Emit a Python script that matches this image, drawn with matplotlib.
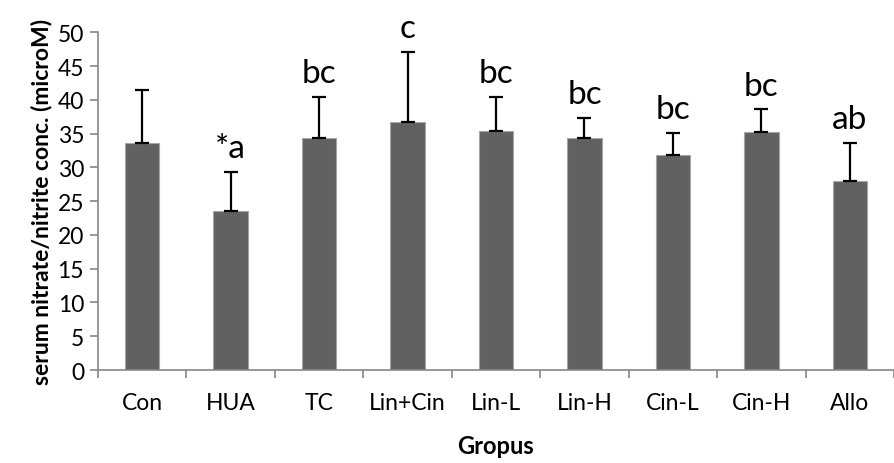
import matplotlib
matplotlib.use("Agg")
import matplotlib.pyplot as plt
import numpy as np

plt.rcParams['font.family'] = ['Lato', 'DejaVu Sans']

groups = ['Con', 'HUA', 'TC', 'Lin+Cin', 'Lin-L', 'Lin-H', 'Cin-L', 'Cin-H', 'Allo']
means = [33.6, 23.5, 34.3, 36.8, 35.4, 34.4, 31.8, 35.3, 28.0]
sds = [7.9, 5.8, 6.1, 10.3, 5.1, 2.9, 3.3, 3.3, 5.6]
letters = ['', '*a', 'bc', 'c', 'bc', 'bc', 'bc', 'bc', 'ab']

fig = plt.figure(figsize=(8.94, 4.64), dpi=100)
ax = fig.add_axes([0.1096, 0.2004, 0.8904, 0.7276])

x = np.arange(len(groups))
ax.bar(x, means, width=0.39, color='#616161', edgecolor='#a6a6a6', linewidth=0.8, zorder=2)
ax.errorbar(x, means, yerr=[np.zeros(len(sds)), sds], fmt='none', ecolor='black',
            elinewidth=1.6, capsize=5, capthick=1.6, zorder=3)

for xi, m, s, lab in zip(x, means, sds, letters):
    if lab:
        ax.text(xi, m + s + 1.3, lab, ha='center', va='bottom', fontsize=24)

ax.set_xlim(-0.5, 8.4)
ax.set_ylim(0, 50)
ax.set_yticks(np.arange(0, 51, 5))
ax.set_xticks(x)
ax.set_xticklabels(groups)
ax.set_xticks(np.arange(-0.5, 9, 1.0), minor=True)
ax.tick_params(axis='x', which='major', length=0, pad=16, labelsize=16.5)
ax.tick_params(axis='x', which='minor', length=6, width=1.2, color='#868686', direction='out')
ax.tick_params(axis='y', length=6, width=1.2, color='#868686', labelsize=16.5, pad=4)

for side in ['top', 'right']:
    ax.spines[side].set_visible(False)
for side in ['left', 'bottom']:
    ax.spines[side].set_color('#868686')
    ax.spines[side].set_linewidth(1.2)

ax.set_ylabel('serum nitrate/nitrite conc. (microM)', fontsize=16.5, fontweight='bold', labelpad=4)
ax.set_xlabel('Gropus', fontsize=17, fontweight='bold', labelpad=15)

fig.savefig('out.png', dpi=100)
